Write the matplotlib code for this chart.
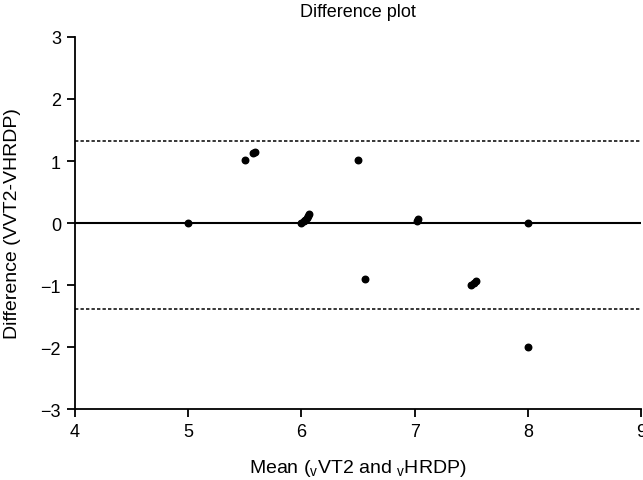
import matplotlib
matplotlib.use("Agg")
import matplotlib.pyplot as plt

plt.rcParams['font.family'] = ['Liberation Sans', 'DejaVu Sans']
plt.rcParams['mathtext.fontset'] = 'custom'
plt.rcParams['mathtext.rm'] = 'Liberation Sans'

mean_vals = [5.0, 5.5, 5.57, 5.59, 6.0, 6.02, 6.03, 6.05, 6.06, 6.07,
             6.5, 6.56, 7.02, 7.03, 7.5, 7.52, 7.54, 8.0, 8.0]
diff_vals = [0.0, 1.02, 1.13, 1.15, 0.0, 0.03, 0.05, 0.08, 0.11, 0.14,
             1.02, -0.9, 0.04, 0.07, -1.0, -0.97, -0.93, 0.0, -2.0]
mean_diff = 0.0
upper_loa = 1.32
lower_loa = -1.38
x_ticks = [4, 5, 6, 7, 8, 9]
y_ticks = [-3, -2, -1, 0, 1, 2, 3]

fig = plt.figure(figsize=(6.43, 4.81), dpi=100)
ax = fig.add_axes([0.1166, 0.1476, 0.8804, 0.7734])

ax.axhline(mean_diff, color='black', lw=1.5, zorder=1)
ax.axhline(upper_loa, color='black', lw=1.1, ls=(0, (2.2, 1.4)), zorder=1)
ax.axhline(lower_loa, color='black', lw=1.1, ls=(0, (2.2, 1.4)), zorder=1)
ax.scatter(mean_vals, diff_vals, s=22, color='black', zorder=3, clip_on=False)

ax.set_xlim(4, 9)
ax.set_ylim(-3, 3)
ax.set_xticks(x_ticks)
ax.set_yticks(y_ticks)
ax.set_yticklabels(['\u22123', '\u22122', '\u22121', '0', '1', '2', '3'])
ax.spines['top'].set_visible(False)
ax.spines['right'].set_visible(False)
ax.spines['left'].set_linewidth(1.3)
ax.spines['bottom'].set_linewidth(1.3)
ax.tick_params(direction='out', length=6, width=1.3, labelsize=13, pad=4)

ax.set_title('Difference plot', fontsize=13, pad=15)
ax.set_xlabel(r'Mean ($_{\mathrm{v}}$VT2 and $_{\mathrm{v}}$HRDP)', fontsize=14, labelpad=12)
ax.set_ylabel('Difference (VVT2-VHRDP)', fontsize=14, labelpad=14)

fig.savefig('out.png', dpi=100)
